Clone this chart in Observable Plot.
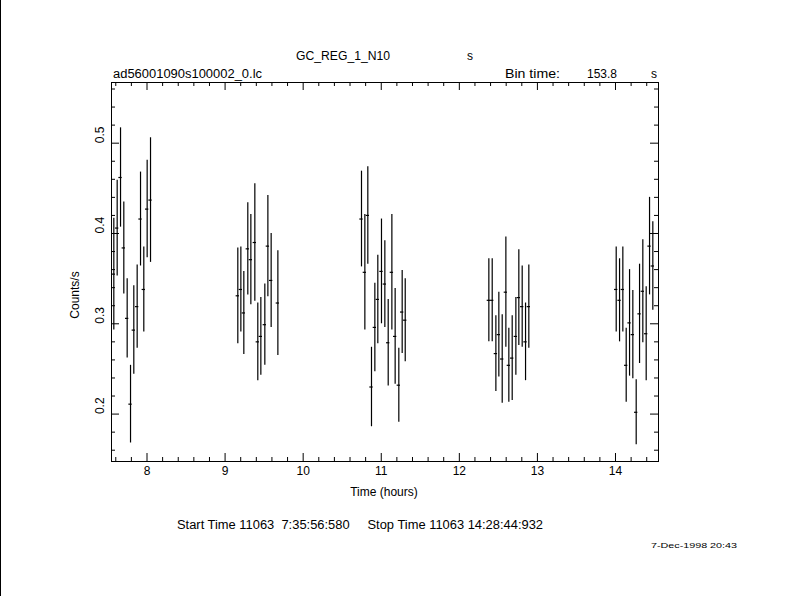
<!DOCTYPE html>
<html>
<head>
<meta charset="utf-8">
<script src="https://cdn.jsdelivr.net/npm/d3@7"></script>
<script src="https://cdn.jsdelivr.net/npm/@observablehq/plot@0.6"></script>
<style>
  html, body { margin: 0; padding: 0; background: #fff; }
  #chart { width: 790px; height: 596px; }
  svg text { font-family: "Liberation Sans", "DejaVu Sans", sans-serif; }
</style>
</head>
<body>
<div id="chart"></div>
<script>
// ---- data ----
const times = [
  7.575, 7.618, 7.661, 7.703, 7.746, 7.789, 7.831, 7.874, 7.917, 7.959, 8.002, 8.045,
  9.163, 9.202, 9.240, 9.291, 9.330, 9.381, 9.419, 9.458, 9.509, 9.548, 9.590, 9.676,
  10.747, 10.790, 10.828, 10.875, 10.918, 10.956, 11.003, 11.046, 11.089, 11.136, 11.178, 11.225, 11.268, 11.307,
  12.378, 12.421, 12.468, 12.506, 12.549, 12.596, 12.634, 12.677, 12.724, 12.762, 12.805, 12.848, 12.890,
  14.009, 14.052, 14.094, 14.137, 14.180, 14.222, 14.265, 14.308, 14.350, 14.393, 14.436, 14.478
];
const rates = [
  0.355, 0.406, 0.462, 0.384, 0.306, 0.211, 0.293, 0.319, 0.416, 0.338, 0.427, 0.437,
  0.331, 0.338, 0.312, 0.383, 0.371, 0.390, 0.280, 0.286, 0.299, 0.386, 0.348, 0.323,
  0.416, 0.357, 0.420, 0.230, 0.296, 0.327, 0.358, 0.344, 0.279, 0.357, 0.286, 0.232, 0.313, 0.304,
  0.326, 0.326, 0.267, 0.288, 0.261, 0.335, 0.254, 0.262, 0.286, 0.329, 0.319, 0.280, 0.319,
  0.338, 0.326, 0.338, 0.254, 0.301, 0.288, 0.202, 0.311, 0.336, 0.289, 0.386, 0.364
];
const errors = [
  0.062, 0.053, 0.055, 0.051, 0.044, 0.043, 0.049, 0.046, 0.052, 0.047, 0.054, 0.069,
  0.053, 0.047, 0.046, 0.051, 0.050, 0.065, 0.043, 0.043, 0.045, 0.056, 0.052, 0.058,
  0.053, 0.064, 0.054, 0.044, 0.049, 0.049, 0.058, 0.048, 0.048, 0.064, 0.053, 0.041, 0.046, 0.046,
  0.046, 0.046, 0.042, 0.047, 0.049, 0.061, 0.041, 0.047, 0.043, 0.053, 0.045, 0.043, 0.046,
  0.047, 0.046, 0.047, 0.041, 0.059, 0.049, 0.036, 0.055, 0.057, 0.052, 0.054, 0.049
];
const binTimeSec = 153.8;
const xTickLabels = [8, 9, 10, 11, 12, 13, 14];
const yTickLabels = [0.2, 0.3, 0.4, 0.5];
const xDomain = [7.5453, 14.5507];
const yDomain = [0.1475, 0.5672];

// ---- layout ----
const W = 790, H = 596;
const mL = 111, mR = 132, mT = 82, mB = 135;
const innerW = W - mL - mR, innerH = H - mT - mB;
const minorLen = 4, majorLen = 8;

const halfBin = binTimeSec / 3600 / 2;
const data = times.map((t, i) => ({t, r: rates[i], e: errors[i]}));

const xMinor = d3.range(7.6, 14.5, 0.2).filter(v => Math.abs(v - Math.round(v)) > 1e-6);
const yMinor = d3.range(0.16, 0.57, 0.02).filter(v => Math.abs(v * 10 - Math.round(v * 10)) > 1e-6);

const font = "Liberation Sans, DejaVu Sans, sans-serif";

const chart = Plot.plot({
  width: W,
  height: H,
  marginLeft: mL,
  marginRight: mR,
  marginTop: mT,
  marginBottom: mB,
  style: {background: "white", color: "black", fontFamily: font, fontSize: "12px"},
  x: {domain: xDomain, axis: null},
  y: {domain: yDomain, axis: null},
  marks: [
    Plot.frame({stroke: "black", strokeWidth: 1}),
    // bottom & top ticks (inward)
    Plot.ruleX(xMinor, {x: d => d, insetTop: innerH - minorLen, stroke: "black"}),
    Plot.ruleX(xTickLabels, {x: d => d, insetTop: innerH - majorLen, stroke: "black"}),
    Plot.ruleX(xMinor, {x: d => d, insetBottom: innerH - minorLen, stroke: "black"}),
    Plot.ruleX(xTickLabels, {x: d => d, insetBottom: innerH - majorLen, stroke: "black"}),
    // left & right ticks (inward)
    Plot.ruleY(yMinor, {y: d => d, insetRight: innerW - minorLen, stroke: "black"}),
    Plot.ruleY(yTickLabels, {y: d => d, insetRight: innerW - majorLen, stroke: "black"}),
    Plot.ruleY(yMinor, {y: d => d, insetLeft: innerW - minorLen, stroke: "black"}),
    Plot.ruleY(yTickLabels, {y: d => d, insetLeft: innerW - majorLen, stroke: "black"}),
    // tick labels
    Plot.text(xTickLabels, {x: d => d, text: d => String(d), frameAnchor: "bottom", dy: 13, fontSize: 12, fill: "black"}),
    Plot.text(yTickLabels, {y: d => d, text: d => d.toFixed(1), frameAnchor: "left", dx: -11, rotate: -90, fontSize: 12, fill: "black"}),
    // data: error bars and bin widths
    Plot.ruleX(data, {x: "t", y1: d => d.r - d.e, y2: d => d.r + d.e, stroke: "black", strokeWidth: 1.2}),
    Plot.ruleY(data, {y: "r", x1: d => d.t - halfBin, x2: d => d.t + halfBin, stroke: "black", strokeWidth: 1.2})
  ]
});

document.getElementById("chart").appendChild(chart);

// ---- annotation texts ----
const svg = d3.select(chart);
svg.append("line").attr("x1", 0.5).attr("x2", 0.5).attr("y1", 0).attr("y2", H).attr("stroke", "black");
function addText(str, x, y, opts = {}) {
  const t = svg.append("text")
    .attr("x", x).attr("y", y)
    .attr("fill", "black")
    .attr("font-size", opts.size || 12)
    .attr("text-anchor", opts.anchor || "start")
    .style("font-family", font)
    .text(str);
  if (opts.len) t.attr("textLength", opts.len).attr("lengthAdjust", "spacingAndGlyphs");
  if (opts.rotate) t.attr("transform", `rotate(${opts.rotate},${x},${y})`);
  return t;
}
addText("GC_REG_1_N10", 296, 60, {len: 94});
addText("s", 467, 60);
addText("ad56001090s100002_0.lc", 113, 78, {len: 149});
addText("Bin time:", 505, 78, {len: 55});
addText("153.8", 587, 78, {len: 30});
addText("s", 651, 78);
addText("Counts/s", 79, 295, {anchor: "middle", rotate: -90});
addText("Time (hours)", 384, 496, {anchor: "middle"});
addText("Start Time 11063  7:35:56:580     Stop Time 11063 14:28:44:932", 177, 529, {len: 366});
addText("7-Dec-1998 20:43", 651, 548, {size: 8, len: 86});
</script>
</body>
</html>
